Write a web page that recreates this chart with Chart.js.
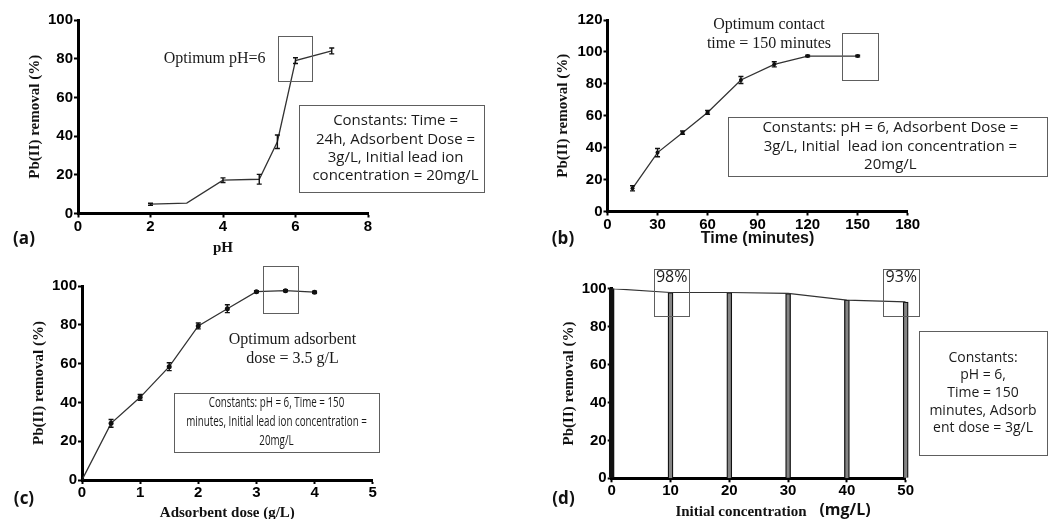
<!DOCTYPE html>
<html>
<head>
<meta charset="utf-8">
<title>Pb(II) removal</title>
<script src="https://cdn.jsdelivr.net/npm/chart.js@4.4.1/dist/chart.umd.min.js"></script>
<style>
  html, body { margin: 0; padding: 0; background: #fff; }
  #fig { position: relative; width: 1049px; height: 519px; overflow: hidden; }
  #fig canvas { position: absolute; }
</style>
</head>
<body>
<div id="fig">
  <canvas id="panelA" width="525" height="260" style="left:0;top:0"></canvas>
  <canvas id="panelB" width="524" height="260" style="left:525px;top:0"></canvas>
  <canvas id="panelC" width="525" height="259" style="left:0;top:260px"></canvas>
  <canvas id="panelD" width="524" height="259" style="left:525px;top:260px"></canvas>
</div>
<script>
// (a) effect of pH
const phValues = [2, 3, 4, 5, 5.5, 6, 7];
const phRemoval = [4.8, 5.4, 17.2, 17.7, 37.1, 79.0, 84.0];
const phError = [0.5, 0, 1.2, 2.5, 3.5, 1.5, 1.5];

// (b) effect of contact time (minutes)
const contactTimes = [15, 30, 45, 60, 80, 100, 120, 150];
const timeRemoval = [14.5, 36.9, 49.4, 62.1, 82.4, 92.2, 97.4, 97.4];
const timeError = [1.6, 2.6, 1.0, 1.2, 2.2, 1.6, 0.5, 0.5];

// (c) effect of adsorbent dose (g/L)
const doses = [0, 0.5, 1, 1.5, 2, 2.5, 3, 3.5, 4];
const doseRemoval = [0, 29.2, 42.6, 58.4, 79.4, 88.3, 97.1, 97.6, 96.8];
const doseError = [0, 2.0, 1.5, 2.0, 1.5, 2.0, 0.5, 0.5, 0.5];

// (d) effect of initial concentration (mg/L)
const initialConc = [0, 10, 20, 30, 40, 50];
const concRemoval = [100, 98, 98, 97.5, 94, 93];

// axis ranges: [min, max, step]
const phAxis = [0, 8, 2];
const timeAxis = [0, 180, 30];
const doseAxis = [0, 5, 1];
const concAxis = [0, 50, 10];
const removalAxis = [0, 100, 20];
const removalAxisB = [0, 120, 20];

const tickFont = { family: '"Liberation Sans", Arial, sans-serif', size: 15, weight: 'bold' };
const serifBold = { family: '"Liberation Serif", "Times New Roman", serif', size: 15, weight: 'bold' };
const sansBold16 = { family: '"Liberation Sans", Arial, sans-serif', size: 16, weight: 'bold' };
const boxFont = '15px "Open Sans", sans-serif';
const noteFont = '16px "Liberation Serif", serif';

const pts = (xs, ys) => xs.map((x, i) => ({ x: x, y: ys[i] }));

// boxes, captions and panel letters drawn over each chart
function notes(spec) {
  return {
    id: 'notes',
    afterDatasetsDraw(chart) {
      const ctx = chart.ctx, ys = chart.scales.y;
      ctx.save();
      ctx.strokeStyle = '#111';
      ctx.lineWidth = 1.4;
      chart.data.datasets.forEach((ds, di) => {
        if (!ds.errors) return;
        chart.getDatasetMeta(di).data.forEach((el, i) => {
          const e = ds.errors[i];
          if (!e) return;
          const v = ds.data[i].y;
          const top = ys.getPixelForValue(v + e), bot = ys.getPixelForValue(v - e);
          ctx.beginPath();
          ctx.moveTo(el.x, top); ctx.lineTo(el.x, bot);
          ctx.moveTo(el.x - 2.5, top); ctx.lineTo(el.x + 2.5, top);
          ctx.moveTo(el.x - 2.5, bot); ctx.lineTo(el.x + 2.5, bot);
          ctx.stroke();
        });
      });
      ctx.restore();
    },
    afterDraw(chart) {
      const ctx = chart.ctx, xs = chart.scales.x, ys = chart.scales.y;
      ctx.save();
      ctx.textAlign = 'center';
      ctx.textBaseline = 'middle';
      (spec.boxes || []).forEach(b => {
        const x0 = xs.getPixelForValue(b.x[0]), x1 = xs.getPixelForValue(b.x[1]);
        const y0 = ys.getPixelForValue(b.y[1]), y1 = ys.getPixelForValue(b.y[0]);
        ctx.strokeStyle = '#5e5e5e';
        ctx.lineWidth = 1;
        ctx.strokeRect(Math.round(x0) + 0.5, Math.round(y0) + 0.5, Math.round(x1 - x0), Math.round(y1 - y0));
        if (!b.lines) return;
        ctx.font = b.font || boxFont;
        ctx.fillStyle = '#1a1a1a';
        const cx = (x0 + x1) / 2 + (b.dx || 0);
        const cy = b.top ? y0 + b.top : (y0 + y1) / 2;
        const sx = b.squeeze || 1;
        b.lines.forEach((t, i) => {
          ctx.save();
          ctx.translate(cx, cy + (i - (b.lines.length - 1) / 2) * b.gap);
          ctx.scale(sx, 1);
          ctx.fillText(t, 0, 0);
          ctx.restore();
        });
      });
      (spec.texts || []).forEach(t => {
        ctx.font = noteFont;
        ctx.fillStyle = '#1a1a1a';
        const cx = xs.getPixelForValue(t.x), cy = ys.getPixelForValue(t.y);
        t.lines.forEach((s, i) => ctx.fillText(s, cx, cy + (i - (t.lines.length - 1) / 2) * t.gap));
      });
      (spec.labels || []).forEach(l => {
        ctx.font = l.font;
        ctx.fillStyle = '#111';
        ctx.fillText(l.text, l.x, l.y);
      });
      ctx.restore();
    }
  };
}

function axisCommon(range) {
  return {
    min: range[0], max: range[1], offset: false,
    grid: { display: true, drawOnChartArea: false, drawTicks: true, tickLength: 4, tickWidth: 2, tickColor: '#000', offset: false },
    border: { display: true, width: 3, color: '#000' }
  };
}

function scalesFor(o, W, H) {
  const x = Object.assign(axisCommon(o.xRange), {
    type: 'linear',
    ticks: { stepSize: o.xRange[2], padding: 0, color: '#000', font: tickFont, maxRotation: 0, autoSkip: false },
    title: o.xTitle
      ? { display: true, text: o.xTitle, font: o.xTitleFont, color: '#111',
          padding: { top: 0, bottom: H - o.xTitleY - o.xTitleFont.size * 0.6 } }
      : { display: false },
    afterFit: s => { s.height = H - o.area.bottom; s.paddingLeft = 0; s.paddingRight = 0; }
  });
  const y = Object.assign(axisCommon(o.yRange), {
    type: 'linear',
    ticks: { stepSize: o.yRange[2], padding: 1, color: '#000', font: tickFont },
    title: { display: true, text: 'Pb(II) removal (%)', font: serifBold, color: '#111',
             padding: { top: o.yTitleX - serifBold.size * 0.6, bottom: 0 } },
    afterFit: s => { s.width = o.area.left; s.paddingTop = 0; s.paddingBottom = 0; }
  });
  return { x: x, y: y };
}

function panel(id, type, datasets, o) {
  const canvas = document.getElementById(id);
  const W = canvas.width, H = canvas.height;
  return new Chart(canvas, {
    type: type,
    data: { datasets: datasets },
    options: {
      responsive: false,
      animation: false,
      devicePixelRatio: 1,
      layout: { autoPadding: false, padding: { left: 0, top: o.area.top, right: W - o.area.right, bottom: 0 } },
      plugins: { legend: { display: false }, tooltip: { enabled: false } },
      scales: scalesFor(o, W, H)
    },
    plugins: [notes(o.notes)]
  });
}

const lineStyle = { borderColor: '#333', borderWidth: 1.3, tension: 0, pointBackgroundColor: '#111', pointBorderWidth: 0 };
const tagFont = 'bold 17px "Open Sans", sans-serif';

panel('panelA', 'line', [
  Object.assign({ data: pts(phValues, phRemoval), errors: phError, pointRadius: 0 }, lineStyle)
], {
  area: { left: 78, right: 368, top: 20, bottom: 213.5 },
  xRange: phAxis, yRange: removalAxis,
  xTitle: 'pH', xTitleFont: serifBold, xTitleY: 248, yTitleX: 35,
  notes: {
    boxes: [
      { x: [5.52, 6.46], y: [68.5, 91.9] },
      { x: [6.1, 11.2], y: [11.1, 56.1], gap: 18.3, dx: 4,
        lines: ['Constants: Time =', '24h, Adsorbent Dose =', '3g/L, Initial lead ion', 'concentration = 20mg/L'] }
    ],
    texts: [{ x: 3.77, y: 79.8, gap: 19, lines: ['Optimum pH=6'] }],
    labels: [{ text: '(a)', x: 24, y: 239, font: tagFont }]
  }
});

panel('panelB', 'line', [
  Object.assign({ data: pts(contactTimes, timeRemoval), errors: timeError, pointRadius: 2 }, lineStyle)
], {
  area: { left: 82.5, right: 382.7, top: 20, bottom: 211.5 },
  xRange: timeAxis, yRange: removalAxisB,
  xTitle: 'Time (minutes)', xTitleFont: sansBold16, xTitleY: 238.5, yTitleX: 38.3,
  notes: {
    boxes: [
      { x: [140.8, 162.4], y: [82.4, 111.7] },
      { x: [72.1, 263.5], y: [22.2, 59], gap: 18.5, dx: 3,
        lines: ['Constants: pH = 6, Adsorbent Dose =', '3g/L, Initial  lead ion concentration =', '20mg/L'] }
    ],
    texts: [{ x: 96.8, y: 110.9, gap: 19, lines: ['Optimum contact', 'time = 150 minutes'] }],
    labels: [{ text: '(b)', x: 38, y: 239, font: tagFont }]
  }
});

panel('panelC', 'line', [
  Object.assign({ data: pts(doses, doseRemoval), errors: doseError, pointRadius: 2.5 }, lineStyle)
], {
  area: { left: 82, right: 372.7, top: 26, bottom: 220 },
  xRange: doseAxis, yRange: removalAxis,
  xTitle: 'Adsorbent dose (g/L)', xTitleFont: serifBold, xTitleY: 253.3, yTitleX: 39,
  notes: {
    boxes: [
      { x: [3.12, 3.72], y: [86.2, 110.5] },
      { x: [1.58, 5.11], y: [14.6, 45], gap: 18.7, squeeze: 0.7, font: '14px "Open Sans", sans-serif',
        lines: ['Constants: pH = 6, Time = 150', 'minutes, Initial lead ion concentration =', '20mg/L'] }
    ],
    texts: [{ x: 3.62, y: 67.3, gap: 19, lines: ['Optimum adsorbent', 'dose = 3.5 g/L'] }],
    labels: [{ text: '(c)', x: 24, y: 239, font: tagFont }]
  }
});

panel('panelD', 'bar', [
  { type: 'line', order: 0, data: pts(initialConc, concRemoval), borderColor: '#333', borderWidth: 1.2, pointRadius: 0, tension: 0 },
  { type: 'bar', order: 1, data: pts(initialConc, concRemoval), clip: false, barThickness: 5,
    backgroundColor: initialConc.map(c => c === 0 ? '#111' : '#858585'), borderColor: '#111', borderWidth: 1.3 }
], {
  area: { left: 86.7, right: 380.7, top: 28.7, bottom: 218.3 },
  xRange: concAxis, yRange: removalAxis,
  xTitle: null, yTitleX: 44.3,
  notes: {
    boxes: [
      { x: [7.2, 13.2], y: [85.6, 110.5], top: 9, gap: 0, font: '16px "Open Sans", sans-serif', lines: ['98%'] },
      { x: [46.2, 52.3], y: [85.6, 110.5], top: 9, gap: 0, font: '16px "Open Sans", sans-serif', lines: ['93%'] },
      { x: [52.3, 74.0], y: [12.3, 77.7], gap: 17.6, font: '14px "Open Sans", sans-serif',
        lines: ['Constants:', 'pH = 6,', 'Time = 150', 'minutes, Adsorb', 'ent dose = 3g/L'] }
    ],
    labels: [
      { text: '(d)', x: 38.5, y: 239, font: tagFont },
      { text: 'Initial concentration', x: 216, y: 252, font: 'bold 15px "Liberation Serif", serif' },
      { text: '(mg/L)', x: 320, y: 250, font: 'bold 16px "Open Sans", sans-serif' }
    ]
  }
});
</script>
</body>
</html>
